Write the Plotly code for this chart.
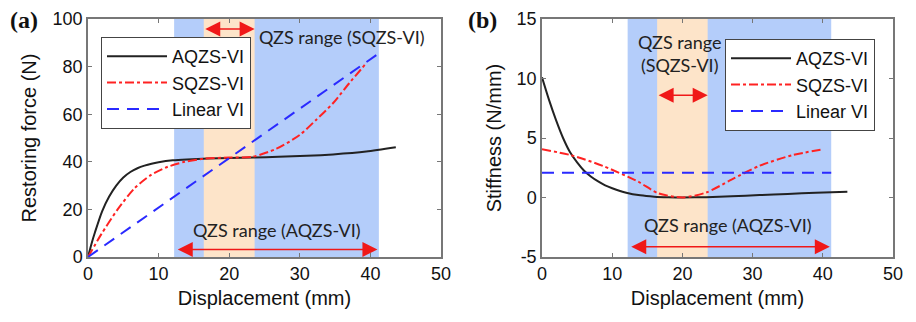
import plotly.graph_objects as go

# ---------------- data ----------------
# Panel (a): restoring force
x_aqzs_f = [0, 0.5, 1, 2, 3, 4, 5, 6, 7, 8, 9, 10, 12, 14, 17, 20, 23.4, 27, 31, 34.7, 39.4, 43.6]
f_aqzs = [0, 5.6, 10.5, 19.2, 25.4, 30.0, 33.4, 35.7, 37.3, 38.4, 39.2, 39.8, 40.6, 41.0, 41.4, 41.6, 41.8, 42.1, 42.5, 43.1, 44.3, 46.1]
x_sqzs_f = [0, 1.87, 4.2, 6.6, 8.95, 11.3, 13.7, 16.5, 20, 23.3, 26.7, 30, 32.3, 34.7, 37, 39.4]
f_sqzs = [0, 9.5, 20.0, 28.9, 34.5, 37.9, 40.0, 41.3, 41.8, 42.1, 45.5, 51.3, 57.6, 64.6, 73.0, 81.4]
x_lin_f = [0, 41.2]
f_lin = [0, 85.6]

# Panel (b): stiffness
x_aqzs_k = [0, 1, 2, 3, 4, 5, 6, 7, 8, 9, 10, 12, 14, 16, 18, 20, 23.4, 27, 31, 35, 39, 43.5]
k_aqzs = [10.1, 8.2, 6.5, 5.0, 3.8, 2.95, 2.25, 1.75, 1.35, 1.02, 0.78, 0.4, 0.18, 0.07, 0.02, 0.0, 0.03, 0.1, 0.2, 0.3, 0.4, 0.48]
x_sqzs_k = [0, 4.1, 8.9, 13.7, 16.5, 20, 23.4, 27, 31, 35.7, 39.8]
k_sqzs = [4.05, 3.56, 2.6, 1.33, 0.37, 0.0, 0.42, 1.5, 2.67, 3.56, 4.03]
x_lin_k = [0, 41.2]
k_lin = [2.07, 2.07]

series_names = ["AQZS-VI", "SQZS-VI", "Linear VI"]

# QZS ranges (mm)
aqzs_range = [12.2, 41.2]
sqzs_range = [16.4, 23.6]
aqzs_arrow = [12.5, 41.0]

x_ticks = [0, 10, 20, 30, 40, 50]
f_ticks = [0, 20, 40, 60, 80, 100]
k_ticks = [-5, 0, 5, 10, 15]
k_ticktext = ["-5", "0", "5", "10", "15"]

# ---------------- styles ----------------
BLACK = "#222222"
RED = "#ff2222"
BLUE = "#2a2aff"
BAND_BLUE = "#b4cdfa"
BAND_ORANGE = "#fde4c9"
ARROW_RED = "#f01818"
TICKFONT = dict(family="Liberation Sans, Arial, sans-serif", size=18, color="#111")
TITLEFONT = dict(family="Liberation Sans, Arial, sans-serif", size=20, color="#111")
NOTEFONT = dict(family="Lato, Open Sans, sans-serif", size=18, color="#222")
LEGFONT = dict(family="Liberation Sans, Arial, sans-serif", size=18, color="#111")

W, H = 916, 322
ydom = [(322 - 257) / H, (322 - 19) / H]

fig = go.Figure()

styles = [dict(color=BLACK, width=2, dash="solid"),
          dict(color=RED, width=2, dash="dashdot"),
          dict(color=BLUE, width=2, dash="12px,8px")]

left_data = [(x_aqzs_f, f_aqzs), (x_sqzs_f, f_sqzs), (x_lin_f, f_lin)]
right_data = [(x_aqzs_k, k_aqzs), (x_sqzs_k, k_sqzs), (x_lin_k, k_lin)]

for (xs, ys), name, st in zip(left_data, series_names, styles):
    fig.add_trace(go.Scatter(x=xs, y=ys, mode="lines", name=name,
                             line=dict(shape="spline", smoothing=0.7, **st),
                             xaxis="x", yaxis="y", legend="legend"))
for (xs, ys), name, st in zip(right_data, series_names, styles):
    fig.add_trace(go.Scatter(x=xs, y=ys, mode="lines", name=name,
                             line=dict(shape="spline", smoothing=0.7, **st),
                             xaxis="x2", yaxis="y2", legend="legend2"))

shapes = []
for xr, yr in [("x", "y domain"), ("x2", "y2 domain")]:
    shapes.append(dict(type="rect", xref=xr, yref=yr, x0=aqzs_range[0], x1=aqzs_range[1],
                       y0=0, y1=1, fillcolor=BAND_BLUE, line_width=0, layer="below"))
    shapes.append(dict(type="rect", xref=xr, yref=yr, x0=sqzs_range[0], x1=sqzs_range[1],
                       y0=0, y1=1, fillcolor=BAND_ORANGE, line_width=0, layer="below"))

axis_common = dict(showgrid=False, zeroline=False, showline=True, linecolor="#777",
                   linewidth=1.5, mirror="ticks", ticks="inside", ticklen=4,
                   tickcolor="#777", tickfont=TICKFONT, title_font=TITLEFONT,
                   automargin=False)

fig.update_layout(
    width=W, height=H, margin=dict(l=0, r=0, t=0, b=0),
    paper_bgcolor="white", plot_bgcolor="white",
    shapes=shapes,
    xaxis=dict(domain=[88 / W, 441 / W], range=[0, 50], tickvals=x_ticks,
               title=dict(text="Displacement (mm)", standoff=8), anchor="y", **axis_common),
    yaxis=dict(domain=ydom, range=[0, 100], tickvals=f_ticks,
               title=dict(text="Restoring force (N)", standoff=11), anchor="x", **axis_common),
    xaxis2=dict(domain=[542 / W, 893 / W], range=[0, 50], tickvals=x_ticks,
                title=dict(text="Displacement (mm)", standoff=8), anchor="y2", **axis_common),
    yaxis2=dict(domain=ydom, range=[-5, 15], tickvals=k_ticks, ticktext=k_ticktext,
                title=dict(text="Stiffness (N/mm)", standoff=10), anchor="x2", **axis_common),
    legend=dict(x=101 / W, y=1 - 37 / H, xanchor="left", yanchor="top",
                bgcolor="white", bordercolor="#444", borderwidth=1,
                font=LEGFONT, itemwidth=60, tracegroupgap=0),
    legend2=dict(x=725 / W, y=1 - 39 / H, xanchor="left", yanchor="top",
                 bgcolor="white", bordercolor="#444", borderwidth=1,
                 font=LEGFONT, itemwidth=60, tracegroupgap=0),
)

ann = []
# panel labels
ann.append(dict(text="<b>(a)</b>", xref="paper", yref="paper", x=8 / W, y=1 - 20 / H,
                xanchor="left", yanchor="middle", showarrow=False,
                font=dict(family="Liberation Serif, Times New Roman, serif", size=24, color="#111")))
ann.append(dict(text="<b>(b)</b>", xref="paper", yref="paper", x=466 / W, y=1 - 20 / H,
                xanchor="left", yanchor="middle", showarrow=False,
                font=dict(family="Liberation Serif, Times New Roman, serif", size=24, color="#111")))
# notes
ann.append(dict(text="QZS range (SQZS-VI)", xref="x", yref="y", x=36.0, y=92.4,
                showarrow=False, font=NOTEFONT))
ann.append(dict(text="QZS range (AQZS-VI)", xref="x", yref="y", x=26.7, y=11.3,
                showarrow=False, font=NOTEFONT))
ann.append(dict(text="QZS range<br>(SQZS-VI)", xref="x2", yref="y2", x=19.6, y=12.06,
                showarrow=False, font=NOTEFONT))
ann.append(dict(text="QZS range (AQZS-VI)", xref="x2", yref="y2", x=26.5, y=-2.28,
                showarrow=False, font=NOTEFONT))


def double_arrow(xr, yr, xs, yv):
    return dict(text="", xref=xr, yref=yr, axref=xr, ayref=yr,
                x=xs[1], y=yv, ax=xs[0], ay=yv, showarrow=True,
                arrowside="end+start", arrowhead=2, arrowsize=2.0, arrowwidth=1.5,
                arrowcolor=ARROW_RED, standoff=0, startstandoff=0)


ann.append(double_arrow("x", "y", sqzs_range, 95.8))
ann.append(double_arrow("x", "y", aqzs_arrow, 3.2))
ann.append(double_arrow("x2", "y2", sqzs_range, 8.6))
ann.append(double_arrow("x2", "y2", aqzs_arrow, -4.13))
fig.update_layout(annotations=ann)

fig.write_html("out.html")
